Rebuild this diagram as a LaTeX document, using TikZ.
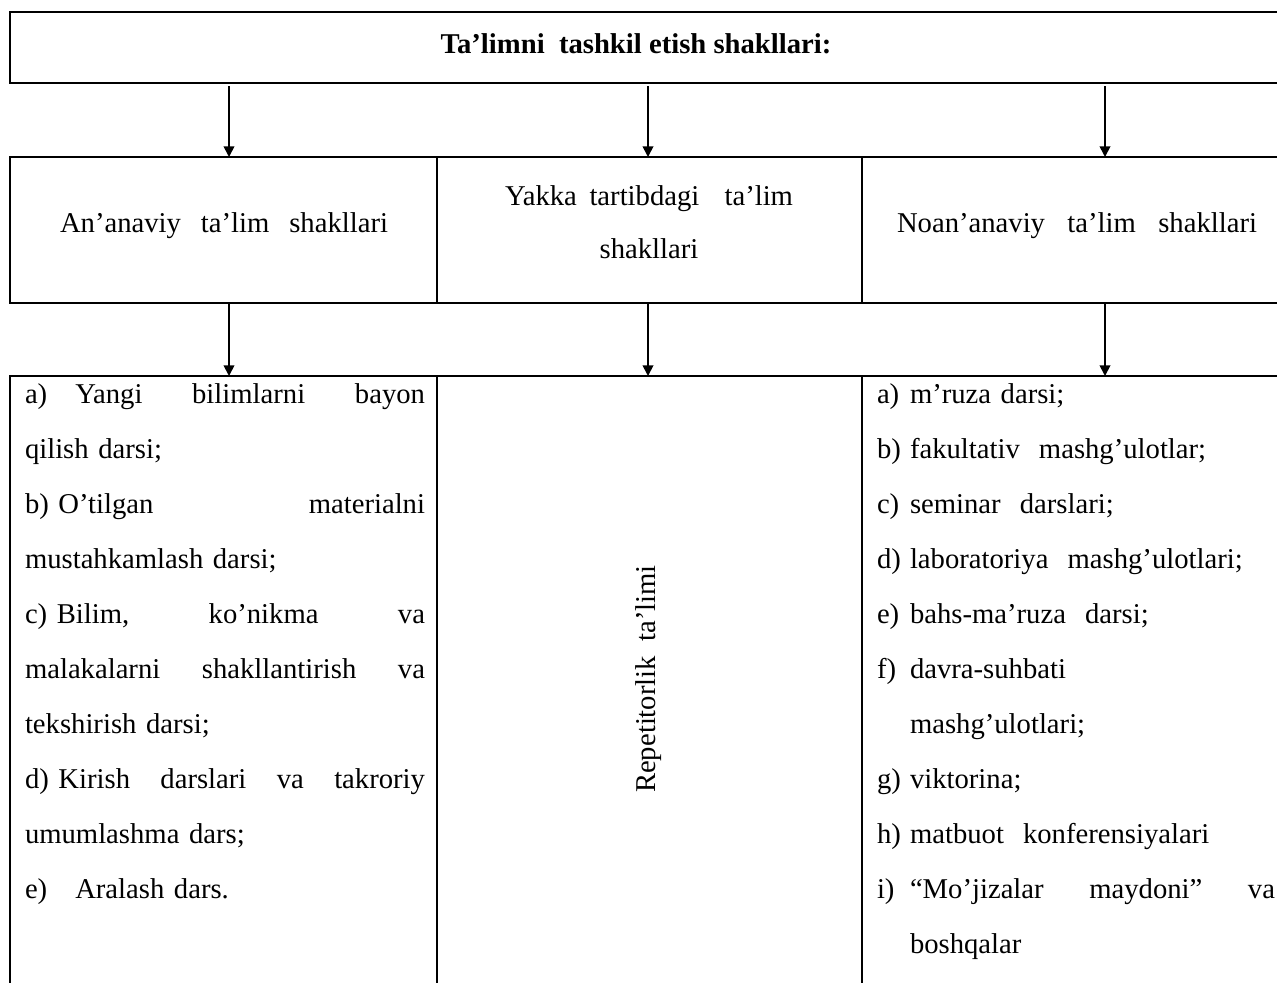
\documentclass[tikz,border=0pt]{standalone}
\usepackage{fontspec}
\setmainfont{Liberation Serif}
\usetikzlibrary{arrows.meta}
\newcommand{\lbl}[1]{\makebox[24.75pt][l]{#1}}
\newcommand{\jl}[1]{\leavevmode\hbox to 300pt{#1}}
\begin{document}
\begin{tikzpicture}[x=0.75pt,y=-0.75pt,
  cell/.style={draw, line width=1.2pt, inner sep=0pt, outer sep=0pt, anchor=north west},
  arr/.style={-{Triangle[width=8pt,length=8pt]}, line width=1.3pt},
  txt/.style={inner sep=0pt, outer sep=0pt, font=\fontsize{21.5}{41.25}\selectfont},
  ttl/.style={inner sep=0pt, outer sep=0pt, font=\fontsize{21.5}{25}\selectfont\bfseries}]
\useasboundingbox (0,0) rectangle (1277,982);
\clip (0,0) rectangle (1277,982);
% cells
\node[cell, minimum width=961.5pt, minimum height=53.25pt] (hdr) at (10,12) {};
\node[cell, minimum width=320.25pt, minimum height=109.5pt] (m1) at (10,157) {};
\node[cell, minimum width=318.75pt, minimum height=109.5pt] (m2) at (437,157) {};
\node[cell, minimum width=322.5pt, minimum height=109.5pt] (m3) at (862,157) {};
\node[cell, minimum width=320.25pt, minimum height=487.5pt] (b1) at (10,376) {};
\node[cell, minimum width=318.75pt, minimum height=487.5pt] (b2) at (437,376) {};
\node[cell, minimum width=322.5pt, minimum height=487.5pt] (b3) at (862,376) {};
% arrow columns
\coordinate (a1) at (229,0);
\coordinate (a2) at (648,0);
\coordinate (a3) at (1105,0);
\draw[arr] ([yshift=-2.5pt]hdr.south -| a1) -- (m1.north -| a1);
\draw[arr] ([yshift=-2.5pt]hdr.south -| a2) -- (m2.north -| a2);
\draw[arr] ([yshift=-2.5pt]hdr.south -| a3) -- (m3.north -| a3);
\draw[arr] (m1.south -| a1) -- (b1.north -| a1);
\draw[arr] (m2.south -| a2) -- (b2.north -| a2);
\draw[arr] (m3.south -| a3) -- (b3.north -| a3);
% texts
\node[ttl, anchor=base] (title) at (636,53) {Ta’limni\ \ tashkil etish shakllari:};
\node[txt, anchor=base] (t1) at (224,232) {\makebox[246pt][s]{An’anaviy\ \ ta’lim\ \ shakllari}};
\node[txt, anchor=base] (t2a) at (649,205) {\makebox[216pt][s]{Yakka tartibdagi\ \ ta’lim}};
\node[txt, anchor=base] (t2b) at (649,258) {shakllari};
\node[txt, anchor=base] (t3) at (1077,232) {\makebox[270pt][s]{Noan’anaviy\ \ ta’lim\ \ shakllari}};
\node[txt, anchor=base west, text width=300pt, align=left] (l1) at (25,403) {%
\jl{a)\hspace{21pt}Yangi\hfill bilimlarni\hfill bayon}\\
qilish darsi;\\
\jl{b)\ O’tilgan\hfill materialni}\\
mustahkamlash darsi;\\
\jl{c)\ Bilim,\hfill ko’nikma\hfill va}\\
\jl{malakalarni\hfill shakllantirish\hfill va}\\
tekshirish darsi;\\
\jl{d)\ Kirish\hfill darslari\hfill va\hfill takroriy}\\
umumlashma dars;\\
e)\hspace{21pt}Aralash dars.};
\node[txt, rotate=90] (rep) at (649,679) {Repetitorlik\ \ ta’limi};
\node[txt, anchor=base west, text width=300pt, align=left] (r1) at (877,403) {%
\lbl{a)}m’ruza darsi;\\
\lbl{b)}fakultativ\ \ mashg’ulotlar;\\
\lbl{c)}seminar\ \ darslari;\\
\lbl{d)}laboratoriya\ \ mashg’ulotlari;\\
\lbl{e)}bahs-ma’ruza\ \ darsi;\\
\lbl{f)}davra-suhbati\\
\lbl{}mashg’ulotlari;\\
\lbl{g)}viktorina;\\
\lbl{h)}matbuot\ \ konferensiyalari\\
\lbl{i)}\hbox to 273.75pt{“Mo’jizalar\hfill maydoni”\hfill va}\\
\lbl{}boshqalar};
\end{tikzpicture}
\end{document}
